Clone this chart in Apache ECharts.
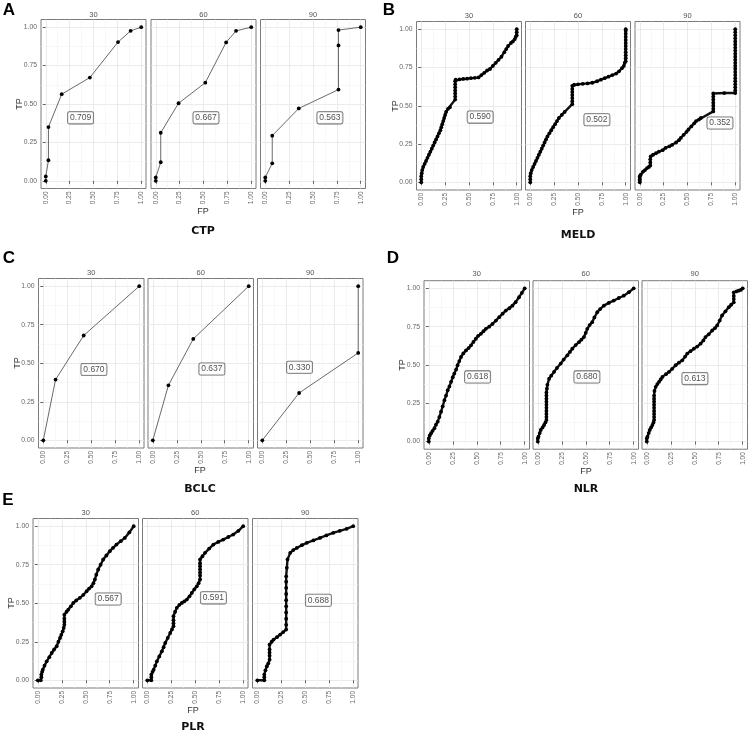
<!DOCTYPE html>
<html><head><meta charset="utf-8">
<script src="https://cdn.jsdelivr.net/npm/echarts@6/dist/echarts.min.js"></script>
<style>html,body{margin:0;padding:0;background:#fff}#c{width:753px;height:734px}</style>
</head><body><div id="c"></div>
<script>
// ---------- data ----------
const facetLabels = ['30', '60', '90'];
const tickValues = [0, 0.25, 0.5, 0.75, 1];
const tickLabels = ['0.00', '0.25', '0.50', '0.75', '1.00'];
const minorValues = [0.125, 0.375, 0.625, 0.875];
const panelTitles = ['CTP', 'MELD', 'BCLC', 'NLR', 'PLR'];
const panelLetters = ['A', 'B', 'C', 'D', 'E'];

const ctp30 = [[0,0],[0,0.028],[0.028,0.134],[0.028,0.35],[0.167,0.564],[0.462,0.672],[0.757,0.903],[0.889,0.976],[1,1]];
const ctp60 = [[0,0],[0,0.022],[0.052,0.121],[0.052,0.313],[0.239,0.505],[0.519,0.639],[0.737,0.901],[0.841,0.976],[1,1]];
const ctp90 = [[0,0],[0,0.022],[0.073,0.114],[0.073,0.294],[0.351,0.471],[0.767,0.594],[0.767,0.881],[0.767,0.981],[1,1]];
const ctpAUC = ['0.709', '0.667', '0.563'];

const meld30 = [[0,0],[0,0.02],[0,0.04],[0.005,0.06],[0.01,0.08],[0.02,0.10],[0.035,0.12],[0.05,0.14],[0.065,0.16],[0.08,0.18],[0.095,0.20],[0.11,0.22],[0.125,0.24],[0.14,0.26],[0.155,0.28],[0.17,0.30],[0.185,0.32],[0.20,0.34],[0.21,0.36],[0.22,0.38],[0.23,0.40],[0.24,0.42],[0.25,0.44],[0.26,0.46],[0.28,0.48],[0.30,0.49],[0.355,0.54],[0.355,0.56],[0.355,0.58],[0.355,0.60],[0.355,0.62],[0.355,0.64],[0.355,0.66],[0.36,0.67],[0.40,0.672],[0.44,0.675],[0.48,0.677],[0.52,0.68],[0.56,0.682],[0.60,0.685],[0.63,0.70],[0.66,0.715],[0.69,0.73],[0.72,0.74],[0.75,0.76],[0.78,0.78],[0.81,0.80],[0.84,0.82],[0.87,0.85],[0.89,0.87],[0.91,0.89],[0.94,0.91],[0.96,0.92],[0.98,0.935],[0.99,0.95],[1,0.96],[1,0.98],[1,1]];
const meld60 = [[0,0],[0,0.02],[0,0.04],[0.005,0.06],[0.015,0.08],[0.03,0.10],[0.045,0.12],[0.06,0.14],[0.075,0.16],[0.09,0.18],[0.105,0.20],[0.12,0.22],[0.135,0.24],[0.15,0.26],[0.165,0.28],[0.18,0.30],[0.20,0.32],[0.22,0.34],[0.24,0.36],[0.26,0.38],[0.28,0.40],[0.30,0.42],[0.33,0.44],[0.36,0.46],[0.44,0.51],[0.44,0.53],[0.44,0.55],[0.44,0.57],[0.44,0.59],[0.44,0.61],[0.44,0.63],[0.46,0.637],[0.50,0.64],[0.55,0.643],[0.60,0.646],[0.65,0.65],[0.70,0.66],[0.74,0.67],[0.78,0.68],[0.82,0.69],[0.86,0.70],[0.90,0.71],[0.93,0.725],[0.96,0.745],[0.98,0.76],[0.99,0.78],[1,0.79],[1,0.81],[1,0.83],[1,0.85],[1,0.87],[1,0.89],[1,0.91],[1,0.93],[1,0.95],[1,0.97],[1,0.99],[1,1]];
const meld90 = [[0,0],[0,0.01],[0,0.02],[0,0.03],[0,0.04],[0.01,0.05],[0.035,0.07],[0.055,0.08],[0.076,0.093],[0.095,0.10],[0.11,0.11],[0.11,0.13],[0.11,0.15],[0.115,0.17],[0.14,0.18],[0.17,0.19],[0.20,0.20],[0.24,0.21],[0.27,0.225],[0.31,0.235],[0.34,0.245],[0.38,0.26],[0.41,0.275],[0.43,0.29],[0.46,0.31],[0.49,0.33],[0.51,0.345],[0.54,0.365],[0.57,0.385],[0.59,0.40],[0.62,0.41],[0.64,0.42],[0.77,0.463],[0.77,0.48],[0.77,0.50],[0.77,0.52],[0.77,0.54],[0.77,0.56],[0.77,0.58],[0.885,0.583],[1,0.583],[1,0.60],[1,0.62],[1,0.64],[1,0.66],[1,0.68],[1,0.70],[1,0.72],[1,0.74],[1,0.76],[1,0.78],[1,0.80],[1,0.82],[1,0.84],[1,0.86],[1,0.88],[1,0.90],[1,0.92],[1,0.94],[1,0.96],[1,0.98],[1,1]];
const meldAUC = ['0.590', '0.502', '0.352'];

const bclc30 = [[0,0],[0.128,0.394],[0.421,0.68],[1,1]];
const bclc60 = [[0,0],[0.163,0.357],[0.422,0.658],[1,1]];
const bclc90 = [[0,0],[0.384,0.307],[1,0.567],[1,1]];
const bclcAUC = ['0.670', '0.637', '0.330'];

const nlr30 = [[0,0],[0,0.02],[0.01,0.04],[0.024,0.054],[0.04,0.07],[0.059,0.087],[0.075,0.11],[0.093,0.13],[0.11,0.16],[0.128,0.195],[0.145,0.23],[0.163,0.27],[0.18,0.30],[0.197,0.335],[0.215,0.36],[0.232,0.39],[0.25,0.42],[0.266,0.444],[0.285,0.47],[0.30,0.498],[0.318,0.525],[0.336,0.552],[0.36,0.575],[0.388,0.595],[0.415,0.61],[0.44,0.628],[0.465,0.65],[0.491,0.671],[0.515,0.69],[0.543,0.703],[0.57,0.72],[0.595,0.736],[0.63,0.75],[0.664,0.768],[0.70,0.79],[0.734,0.812],[0.77,0.835],[0.803,0.855],[0.84,0.87],[0.872,0.887],[0.905,0.91],[0.941,0.942],[0.97,0.97],[1,1]];
const nlr60 = [[0,0],[0,0.02],[0.007,0.032],[0.02,0.055],[0.031,0.076],[0.05,0.092],[0.066,0.108],[0.08,0.125],[0.09,0.14],[0.09,0.16],[0.09,0.18],[0.09,0.20],[0.09,0.22],[0.09,0.24],[0.09,0.26],[0.09,0.28],[0.09,0.30],[0.09,0.32],[0.095,0.345],[0.10,0.37],[0.118,0.41],[0.14,0.43],[0.17,0.455],[0.20,0.48],[0.239,0.509],[0.27,0.535],[0.308,0.563],[0.335,0.585],[0.36,0.606],[0.395,0.63],[0.429,0.649],[0.455,0.665],[0.481,0.682],[0.50,0.71],[0.516,0.736],[0.54,0.76],[0.567,0.779],[0.59,0.81],[0.62,0.844],[0.65,0.865],[0.689,0.887],[0.74,0.905],[0.792,0.92],[0.845,0.937],[0.896,0.952],[0.95,0.975],[1,1]];
const nlr90 = [[0,0],[0,0.02],[0.007,0.032],[0.02,0.055],[0.031,0.076],[0.045,0.092],[0.059,0.108],[0.07,0.125],[0.076,0.14],[0.076,0.16],[0.076,0.18],[0.076,0.20],[0.076,0.22],[0.076,0.24],[0.076,0.26],[0.076,0.28],[0.076,0.30],[0.08,0.33],[0.093,0.357],[0.11,0.375],[0.128,0.39],[0.145,0.405],[0.163,0.422],[0.20,0.44],[0.232,0.455],[0.265,0.475],[0.301,0.498],[0.335,0.515],[0.37,0.53],[0.40,0.555],[0.422,0.574],[0.455,0.59],[0.491,0.606],[0.525,0.62],[0.561,0.639],[0.59,0.66],[0.612,0.682],[0.645,0.70],[0.682,0.725],[0.71,0.74],[0.734,0.758],[0.76,0.79],[0.785,0.823],[0.82,0.85],[0.855,0.877],[0.88,0.893],[0.907,0.909],[0.907,0.93],[0.907,0.95],[0.907,0.974],[0.935,0.98],[0.958,0.985],[0.98,0.99],[1,1]];
const nlrAUC = ['0.618', '0.680', '0.613'];

const plr30 = [[0,0],[0.031,0],[0.037,0.02],[0.037,0.037],[0.045,0.055],[0.052,0.069],[0.07,0.095],[0.093,0.123],[0.12,0.15],[0.145,0.177],[0.17,0.2],[0.197,0.221],[0.215,0.25],[0.232,0.275],[0.245,0.295],[0.26,0.318],[0.27,0.34],[0.277,0.361],[0.277,0.38],[0.277,0.40],[0.277,0.426],[0.30,0.445],[0.318,0.459],[0.345,0.48],[0.37,0.502],[0.40,0.518],[0.439,0.535],[0.475,0.555],[0.509,0.578],[0.535,0.595],[0.561,0.61],[0.58,0.63],[0.595,0.654],[0.61,0.685],[0.63,0.719],[0.655,0.75],[0.682,0.784],[0.715,0.81],[0.751,0.838],[0.785,0.86],[0.82,0.881],[0.865,0.903],[0.907,0.924],[0.955,0.96],[1,1]];
const plr60 = [[0,0],[0.042,0],[0.042,0.02],[0.042,0.037],[0.055,0.055],[0.066,0.069],[0.083,0.095],[0.10,0.123],[0.125,0.155],[0.152,0.188],[0.17,0.215],[0.187,0.242],[0.213,0.275],[0.239,0.307],[0.257,0.33],[0.273,0.351],[0.273,0.37],[0.273,0.39],[0.273,0.416],[0.29,0.445],[0.308,0.47],[0.335,0.49],[0.36,0.502],[0.385,0.512],[0.412,0.524],[0.44,0.545],[0.464,0.567],[0.49,0.59],[0.516,0.61],[0.535,0.63],[0.55,0.654],[0.55,0.68],[0.55,0.70],[0.55,0.72],[0.55,0.74],[0.55,0.76],[0.55,0.784],[0.575,0.805],[0.602,0.827],[0.645,0.855],[0.689,0.881],[0.74,0.898],[0.792,0.913],[0.845,0.93],[0.896,0.946],[0.95,0.97],[1,1]];
const plr90 = [[0,0],[0.073,0],[0.073,0.02],[0.073,0.037],[0.085,0.065],[0.10,0.091],[0.115,0.11],[0.128,0.134],[0.128,0.16],[0.128,0.18],[0.128,0.20],[0.128,0.232],[0.15,0.25],[0.17,0.264],[0.205,0.28],[0.239,0.297],[0.27,0.313],[0.301,0.329],[0.301,0.36],[0.301,0.40],[0.301,0.44],[0.301,0.48],[0.301,0.52],[0.301,0.56],[0.301,0.60],[0.301,0.64],[0.301,0.675],[0.308,0.73],[0.315,0.784],[0.343,0.827],[0.375,0.845],[0.412,0.859],[0.465,0.877],[0.516,0.892],[0.585,0.908],[0.654,0.924],[0.72,0.94],[0.792,0.957],[0.86,0.97],[0.931,0.983],[1,1]];
const plrAUC = ['0.567', '0.591', '0.688'];

// ---------- layout (positions / styles) ----------
const FONT = '"Liberation Sans", Arial, sans-serif';
const blocks = [
  { series: [ctp30, ctp60, ctp90], auc: ctpAUC, aucPos: [[0.365,0.41],[0.526,0.41],[0.677,0.41]], dense: false,
    lefts: [41, 151, 260.5], top: 19.5, w: 105, h: 169, letter: [9, 10], stripY: 14.5, tp: [20, 104], fp: [203, 212], titleY: 231 },
  { series: [meld30, meld60, meld90], auc: meldAUC, aucPos: [[0.617,0.426],[0.698,0.409],[0.84,0.387]], dense: true,
    lefts: [416.5, 525.5, 635], top: 21.5, w: 105, h: 168.5, letter: [389, 10], stripY: 16, tp: [396, 106], fp: [578, 213], titleY: 235 },
  { series: [bclc30, bclc60, bclc90], auc: bclcAUC, aucPos: [[0.528,0.459],[0.616,0.463],[0.388,0.474]], dense: false,
    lefts: [38.5, 148, 257.5], top: 278.5, w: 105.5, h: 169.5, letter: [9, 258], stripY: 273.3, tp: [18, 363], fp: [200, 471], titleY: 489 },
  { series: [nlr30, nlr60, nlr90], auc: nlrAUC, aucPos: [[0.509,0.422],[0.512,0.422],[0.502,0.411]], dense: true,
    lefts: [424, 533, 642], top: 280.7, w: 105.5, h: 168.5, letter: [393, 258], stripY: 274.3, tp: [402.7, 365], fp: [586, 472], titleY: 489 },
  { series: [plr30, plr60, plr90], auc: plrAUC, aucPos: [[0.734,0.528],[0.689,0.535],[0.637,0.519]], dense: true,
    lefts: [33, 142.5, 252.5], top: 518.5, w: 105.5, h: 169.5, letter: [8, 500], stripY: 513.3, tp: [11.7, 603], fp: [193, 711], titleY: 727 }
];

const grid = [], xAxis = [], yAxis = [], series = [], graphic = [];
function txt(x, y, text, font, fill, rot) {
  graphic.push({ type: 'text', x: x, y: y, rotation: rot || 0, silent: true,
    style: { text: text, font: font, fill: fill, align: 'center', verticalAlign: 'middle' } });
}
const lbl = v => tickLabels[tickValues.indexOf(v)] || '';

blocks.forEach((b, bi) => {
  txt(b.letter[0], b.letter[1], panelLetters[bi], 'bold 17px ' + FONT, '#000');
  txt(b.tp[0], b.tp[1], 'TP', '9px ' + FONT, '#333', Math.PI / 2);
  txt(b.fp[0], b.fp[1], 'FP', '9px ' + FONT, '#333');
  txt(b.fp[0], b.titleY, panelTitles[bi], 'bold 11px "DejaVu Sans", sans-serif', '#111');
  b.series.forEach((data, fi) => {
    const g = grid.length;
    grid.push({ left: b.lefts[fi], top: b.top, width: b.w, height: b.h, show: true,
      borderColor: '#7a7a7a', borderWidth: 1, backgroundColor: '#fff' });
    txt(b.lefts[fi] + b.w / 2, b.stripY, facetLabels[fi], '7.5px ' + FONT, '#555');
    const common = { type: 'value', gridIndex: g, min: -0.05, max: 1.05, axisLine: { show: false } };
    const xi = xAxis.length, yi = yAxis.length;
    xAxis.push(Object.assign({}, common, { position: 'bottom',
      axisTick: { show: true, length: 3, lineStyle: { color: '#444', width: 0.8 }, customValues: tickValues },
      axisLabel: { customValues: tickValues, formatter: lbl, rotate: 90, fontSize: 6.5, color: '#666', margin: 3, fontFamily: FONT },
      splitLine: { show: true, lineStyle: { color: '#e6e6e6', width: 0.8 } } }));
    xAxis.push(Object.assign({}, common, { position: 'top',
      axisTick: { show: false, customValues: minorValues }, axisLabel: { show: false, customValues: minorValues },
      splitLine: { show: true, lineStyle: { color: '#f3f3f3', width: 0.6 } } }));
    yAxis.push(Object.assign({}, common, { position: 'left',
      axisTick: { show: fi === 0, length: 3, lineStyle: { color: '#444', width: 0.8 }, customValues: tickValues },
      axisLabel: { show: fi === 0, customValues: tickValues, formatter: lbl, fontSize: 6.8, color: '#666', margin: 4, fontFamily: FONT },
      splitLine: { show: true, lineStyle: { color: '#e6e6e6', width: 0.8 } } }));
    yAxis.push(Object.assign({}, common, { position: 'right',
      axisTick: { show: false, customValues: minorValues }, axisLabel: { show: false, customValues: minorValues },
      splitLine: { show: true, lineStyle: { color: '#f3f3f3', width: 0.6 } } }));
    series.push({ type: 'line', xAxisIndex: xi, yAxisIndex: yi, data: data, animation: false,
      symbol: 'circle', symbolSize: b.dense ? 3.8 : 3.8, showAllSymbol: true, z: 3,
      itemStyle: { color: '#000' },
      lineStyle: { color: b.dense ? '#111' : '#444', width: b.dense ? 2.4 : 0.8 } });
    series.push({ type: 'scatter', xAxisIndex: xi, yAxisIndex: yi, animation: false, z: 4, silent: true,
      data: [b.aucPos[fi]], symbol: 'rect', symbolSize: 1, itemStyle: { color: 'rgba(0,0,0,0)' },
      labelLayout: { hideOverlap: false },
      label: { show: true, position: 'inside', formatter: b.auc[fi], fontSize: 8.5, color: '#222', fontFamily: FONT,
        backgroundColor: '#fff', borderColor: '#444', borderWidth: 0.8, borderRadius: 1.5, padding: [1.5, 2, 1, 2] } });
  });
});

const chart = echarts.init(document.getElementById('c'), null, { renderer: 'canvas' });
chart.setOption({ animation: false, backgroundColor: '#fff', grid, xAxis, yAxis, series, graphic });
</script>
</body></html>
